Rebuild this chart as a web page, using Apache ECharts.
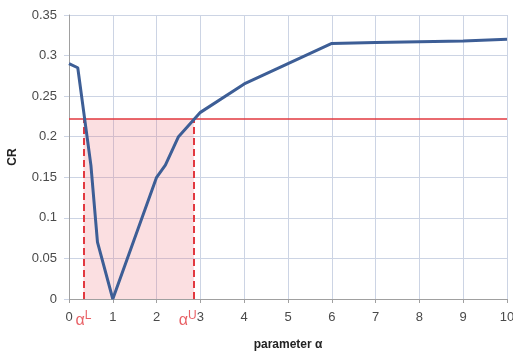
<!DOCTYPE html>
<html>
<head>
<meta charset="utf-8">
<script src="https://cdn.jsdelivr.net/npm/echarts@6/dist/echarts.min.js"></script>
<style>
  html, body { margin: 0; padding: 0; background: #fff; }
  #chart { width: 513px; height: 351px; }
</style>
</head>
<body>
<div id="chart"></div>
<script>
// CR as a function of the parameter alpha
const alphaValues = [0, 0.2, 0.5, 0.65, 1, 2, 2.2, 2.5, 3, 4, 5, 6, 7, 8, 9, 10];
const crValues = [0.29, 0.285, 0.165, 0.07, 0, 0.15, 0.165, 0.2, 0.23, 0.265, 0.29, 0.315, 0.316, 0.317, 0.318, 0.32];

// acceptance threshold and the alpha interval where CR stays below it
const crThreshold = 0.222;
const alphaLower = 0.33;
const alphaUpper = 2.85;
const boundNames = ['L', 'U'];

const labelFont = '"Liberation Sans", Arial, sans-serif';
const red = '#e2383f';

const chart = echarts.init(document.getElementById('chart'));

chart.setOption({
  animation: false,
  grid: { left: 69, right: 6, top: 15, bottom: 52, containLabel: false, outerBoundsMode: 'none' },
  xAxis: {
    type: 'value',
    min: 0, max: 10, interval: 1,
    name: 'parameter α',
    nameLocation: 'middle',
    nameGap: 40,
    nameTextStyle: { fontFamily: labelFont, fontSize: 12, fontWeight: 'bold', color: '#222' },
    axisLine: { show: true, lineStyle: { color: '#a0a0a0', width: 1 } },
    axisTick: { show: true, length: 4, lineStyle: { color: '#a0a0a0' } },
    axisLabel: { fontFamily: labelFont, fontSize: 13, color: '#4a4a4a', margin: 12 },
    splitLine: { show: true, lineStyle: { color: '#ccd4e4', width: 1 } }
  },
  yAxis: {
    type: 'value',
    min: 0, max: 0.35, interval: 0.05,
    name: 'CR',
    nameLocation: 'middle',
    nameGap: 50,
    nameTextStyle: { fontFamily: labelFont, fontSize: 12, fontWeight: 'bold', color: '#222' },
    axisLine: { show: true, lineStyle: { color: '#a0a0a0', width: 1 } },
    axisTick: { show: true, length: 5, lineStyle: { color: '#ccd4e4' } },
    axisLabel: { fontFamily: labelFont, fontSize: 13, color: '#4a4a4a', margin: 12 },
    splitLine: { show: true, lineStyle: { color: '#ccd4e4', width: 1 } }
  },
  series: [
    {
      // shaded feasible region and the threshold / bound lines
      type: 'line',
      data: [],
      z: 2,
      markArea: {
        silent: true,
        itemStyle: { color: 'rgba(238,110,120,0.22)' },
        data: [[{ coord: [alphaLower, 0] }, { coord: [alphaUpper, crThreshold] }]]
      },
      markLine: {
        silent: true,
        symbol: ['none', 'none'],
        label: { show: false },
        data: [
          [{ coord: [0, crThreshold], lineStyle: { type: 'solid', width: 1.5, color: red } },
           { coord: [10, crThreshold] }],
          [{ coord: [alphaLower, 0], lineStyle: { type: [7, 4], width: 2, color: red } },
           { coord: [alphaLower, crThreshold] }],
          [{ coord: [alphaUpper, 0], lineStyle: { type: [7, 4], width: 2, color: red } },
           { coord: [alphaUpper, crThreshold] }]
        ]
      }
    },
    {
      type: 'line',
      data: alphaValues.map((a, i) => [a, crValues[i]]),
      showSymbol: false,
      symbol: 'none',
      z: 5,
      lineStyle: { color: '#3d5e96', width: 3 },
      itemStyle: { color: '#3d5e96' }
    },
    {
      // α^L and α^U labels under the axis
      type: 'scatter',
      symbolSize: 0,
      z: 6,
      silent: true,
      data: [[alphaLower, 0], [alphaUpper, 0]],
      label: {
        show: true,
        position: 'bottom',
        distance: 11,
        formatter: p => '{a|α}{s|' + boundNames[p.dataIndex] + '}',
        rich: {
          a: { fontFamily: labelFont, fontSize: 16, color: red, verticalAlign: 'bottom', lineHeight: 19 },
          s: { fontFamily: labelFont, fontSize: 12, color: red, verticalAlign: 'top', lineHeight: 19, padding: [0, 0, 8, 0] }
        }
      },
      labelLayout: p => p.dataIndex === 1 ? { dx: -6 } : {}
    }
  ]
});
</script>
</body>
</html>
